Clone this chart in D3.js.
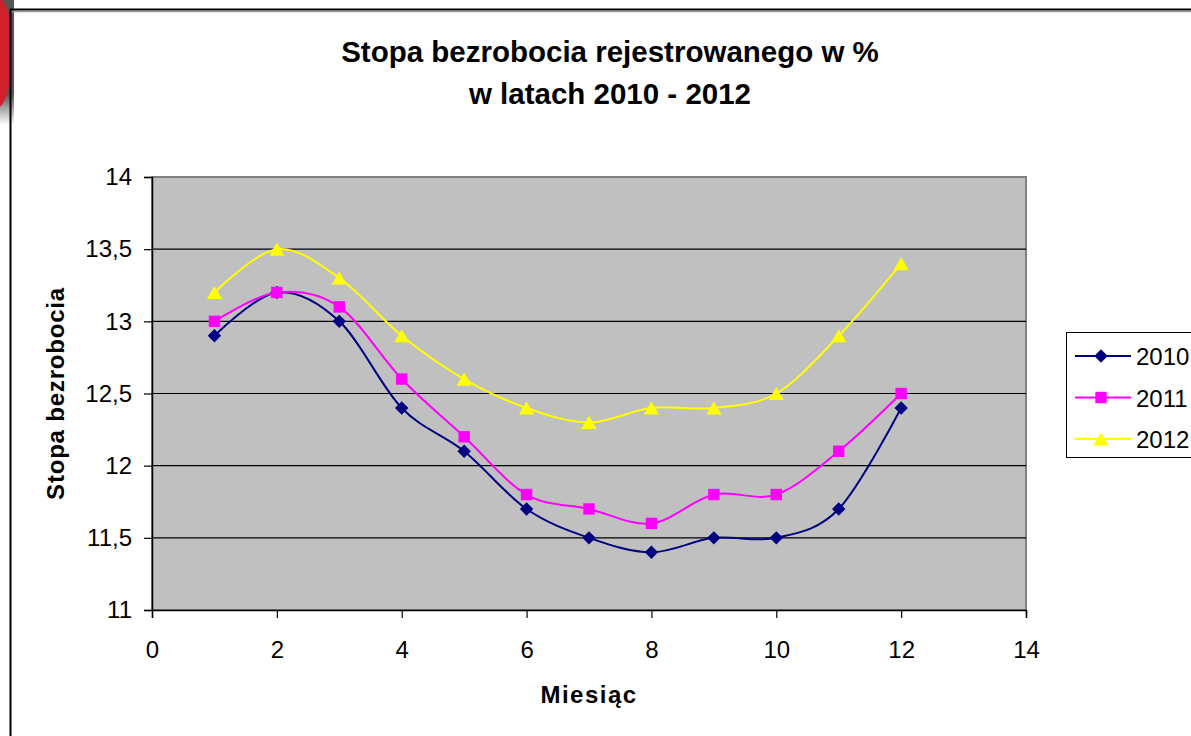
<!DOCTYPE html>
<html>
<head>
<meta charset="utf-8">
<script src="https://cdn.jsdelivr.net/npm/d3@7"></script>
<style>
  body { margin: 0; background: #fff; }
  svg { display: block; font-family: "Liberation Sans", Arial, sans-serif; }
</style>
</head>
<body>
<svg id="chart" width="1191" height="736"></svg>
<script>
// data
const months = [1, 2, 3, 4, 5, 6, 7, 8, 9, 10, 11, 12];
const rate2010 = [12.9, 13.2, 13.0, 12.4, 12.1, 11.7, 11.5, 11.4, 11.5, 11.5, 11.7, 12.4];
const rate2011 = [13.0, 13.2, 13.1, 12.6, 12.2, 11.8, 11.7, 11.6, 11.8, 11.8, 12.1, 12.5];
const rate2012 = [13.2, 13.5, 13.3, 12.9, 12.6, 12.4, 12.3, 12.4, 12.4, 12.5, 12.9, 13.4];
const seriesNames = ["2010", "2011", "2012"];
const xTicks = [0, 2, 4, 6, 8, 10, 12, 14];
const yTicks = [11, 11.5, 12, 12.5, 13, 13.5, 14];

// Excel style diamond = square turned 45 degrees
const diamond = {
  draw(ctx, size) {
    const r = Math.sqrt(size / 2);
    ctx.moveTo(0, -r); ctx.lineTo(r, 0); ctx.lineTo(0, r); ctx.lineTo(-r, 0); ctx.closePath();
  }
};
// triangle centred on its bounding box
const triangle = {
  draw(ctx, size) {
    const s = Math.sqrt(size * 4 / Math.sqrt(3));
    const h = s * Math.sqrt(3) / 2;
    ctx.moveTo(0, -h / 2); ctx.lineTo(s / 2, h / 2); ctx.lineTo(-s / 2, h / 2); ctx.closePath();
  }
};

const series = [
  { name: seriesNames[0], values: rate2010, color: "#000080", symbol: diamond, size: 90 },
  { name: seriesNames[1], values: rate2011, color: "#ff00ff", symbol: d3.symbolSquare, size: 130 },
  { name: seriesNames[2], values: rate2012, color: "#ffff00", symbol: triangle, size: 100 },
];

const svg = d3.select("#chart");
const margin = { top: 177, right: 166, bottom: 126, left: 152 };
const W = 1191, H = 736;

// outer frame with a little shadow, and the red tab in the corner
const defs = svg.append("defs");
const g0 = defs.append("linearGradient").attr("id", "shade").attr("x1", 0).attr("y1", 0).attr("x2", 0).attr("y2", 1);
g0.append("stop").attr("offset", "0.75").attr("stop-color", "#555");
g0.append("stop").attr("offset", "1").attr("stop-color", "#fff");
svg.append("rect").attr("x", 0).attr("y", 0).attr("width", 14).attr("height", 125)
  .attr("fill", "url(#shade)");
svg.append("path")
  .attr("d", "M0,0 L2,0 Q12,10 12,50 Q12,95 0,107 Z")
  .attr("fill", "#d21f2e");
svg.append("line").attr("x1", 10).attr("x2", W).attr("y1", 11.5).attr("y2", 11.5)
  .attr("stroke", "#999").attr("stroke-width", 1.5);
svg.append("line").attr("x1", 10).attr("x2", W).attr("y1", 9.5).attr("y2", 9.5)
  .attr("stroke", "#000").attr("stroke-width", 2);
svg.append("line").attr("x1", 10.5).attr("x2", 10.5).attr("y1", 9).attr("y2", H)
  .attr("stroke", "#000").attr("stroke-width", 2);

const x = d3.scaleLinear().domain([0, 14]).range([margin.left, W - margin.right + 1]);
const y = d3.scaleLinear().domain([11, 14]).range([H - margin.bottom, margin.top]);

// plot area
svg.append("rect")
  .attr("x", x(0)).attr("y", y(14))
  .attr("width", x(14) - x(0)).attr("height", y(11) - y(14))
  .attr("fill", "#c0c0c0")
  .attr("stroke", "#808080").attr("stroke-width", 2);

// gridlines
svg.append("g").selectAll("line")
  .data(yTicks.filter(d => d > 11 && d < 14))
  .enter().append("line")
  .attr("x1", x(0)).attr("x2", x(14))
  .attr("y1", d => y(d)).attr("y2", d => y(d))
  .attr("stroke", "#000").attr("stroke-width", 1.2);

const fmt = d => String(d).replace(".", ",");

const yAxis = svg.append("g")
  .attr("transform", `translate(${x(0)},0)`)
  .call(d3.axisLeft(y).tickValues(yTicks).tickFormat(fmt).tickSize(8).tickPadding(12));
const xAxis = svg.append("g")
  .attr("transform", `translate(0,${y(11)})`)
  .call(d3.axisBottom(x).tickValues(xTicks).tickSize(8).tickPadding(23));
[yAxis, xAxis].forEach(a => {
  a.attr("font-size", 24).attr("font-family", "Liberation Sans, Arial, sans-serif");
  a.select(".domain").attr("stroke", "#000").attr("stroke-width", 1.5);
  a.selectAll(".tick line").attr("stroke", "#000").attr("stroke-width", 1.2);
  a.selectAll("text").attr("fill", "#000");
});

// lines
const line = d3.line()
  .x((d, i) => x(months[i]))
  .y(d => y(d))
  .curve(d3.curveCardinal.tension(0));

series.forEach(s => {
  svg.append("path")
    .datum(s.values)
    .attr("fill", "none")
    .attr("stroke", s.color)
    .attr("stroke-width", 2)
    .attr("d", line);
});

series.forEach(s => {
  svg.append("g").selectAll("path")
    .data(s.values)
    .enter().append("path")
    .attr("transform", (d, i) => `translate(${x(months[i])},${y(d)})`)
    .attr("d", d3.symbol().type(s.symbol).size(s.size))
    .attr("fill", s.color);
});

// titles
const title = svg.append("text")
  .attr("text-anchor", "middle")
  .attr("font-size", 29.5).attr("font-weight", "bold");
title.append("tspan").attr("x", 610).attr("y", 62).text("Stopa bezrobocia rejestrowanego w %");
title.append("tspan").attr("x", 610).attr("y", 104).text("w latach 2010 - 2012");

svg.append("text")
  .attr("x", 589).attr("y", 703)
  .attr("text-anchor", "middle")
  .attr("font-size", 24).attr("font-weight", "bold")
  .attr("letter-spacing", 1.5)
  .text("Miesiąc");

svg.append("text")
  .attr("transform", `translate(64,${(y(11) + y(14)) / 2}) rotate(-90)`)
  .attr("text-anchor", "middle")
  .attr("font-size", 24).attr("font-weight", "bold")
  .attr("letter-spacing", 0.8)
  .text("Stopa bezrobocia");

// legend
const legend = svg.append("g").attr("transform", "translate(1066,332)");
legend.append("rect")
  .attr("x", 0.5).attr("y", 0.5).attr("width", 140).attr("height", 125)
  .attr("fill", "#fff").attr("stroke", "#000").attr("stroke-width", 1);
series.forEach((s, i) => {
  const ly = 24 + i * 41.5;
  legend.append("line")
    .attr("x1", 9).attr("x2", 65).attr("y1", ly).attr("y2", ly)
    .attr("stroke", s.color).attr("stroke-width", 2);
  legend.append("path")
    .attr("transform", `translate(35,${ly})`)
    .attr("d", d3.symbol().type(s.symbol).size(s.size))
    .attr("fill", s.color);
  legend.append("text")
    .attr("x", 70).attr("y", ly + 9)
    .attr("font-size", 24)
    .text(s.name);
});
</script>
</body>
</html>
